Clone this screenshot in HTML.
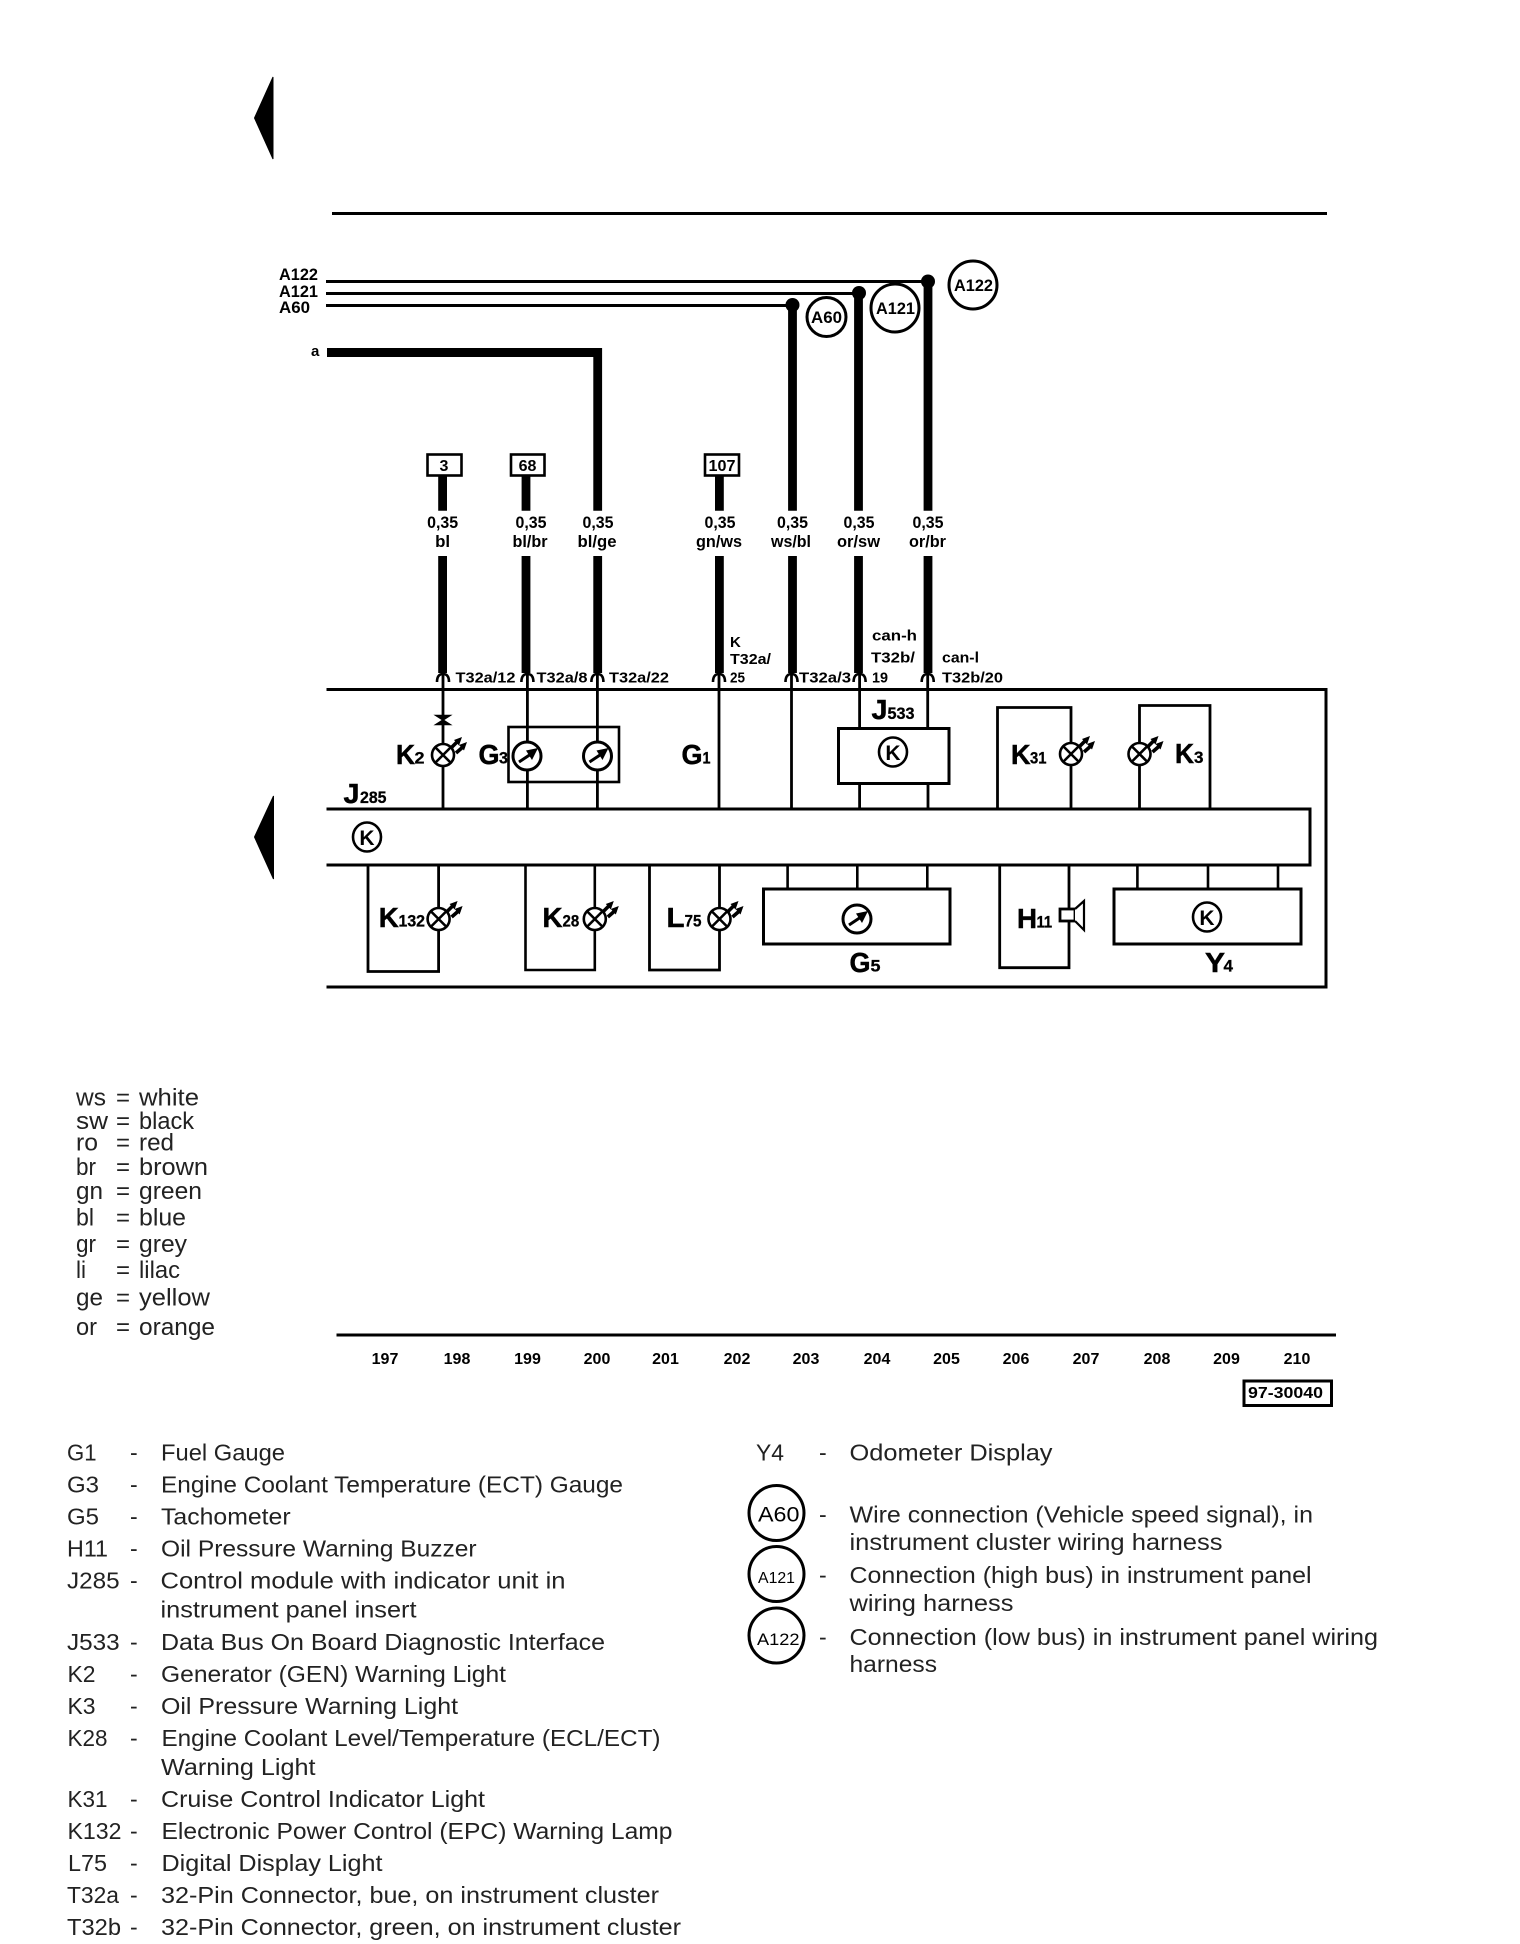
<!DOCTYPE html>
<html><head><meta charset="utf-8"><title>Wiring diagram</title>
<style>
html,body{margin:0;padding:0;background:#fff}
svg{display:block}
text{font-family:"Liberation Sans",sans-serif;fill:#000}
.b{font-weight:bold}
.big{font-weight:bold;font-size:28px;stroke:#000;stroke-width:.5}
.sub{font-weight:bold;font-size:17px;stroke:#000;stroke-width:.3}
.w{font-weight:bold;font-size:17px;text-anchor:middle}
.p{font-weight:bold;font-size:15px}
.n{font-weight:bold;font-size:16px;text-anchor:middle}
.l{font-size:23px;fill:#222}
.c{font-size:24px;fill:#222}
</style></head><body>
<svg xmlns="http://www.w3.org/2000/svg" width="1520" height="1944" viewBox="0 0 1520 1944">
<defs>
<g id="lamp">
<circle r="11" fill="#fff" stroke="#000" stroke-width="2.6"/>
<path d="M-7.5,-7.5L7.5,7.5M-7.5,7.5L7.5,-7.5" stroke="#000" stroke-width="2.6" fill="none"/>
<path d="M13,-2L21,-9M8,-7L15,-14" stroke="#000" stroke-width="3.6" fill="none"/>
<path d="M24,-13L16,-10L21,-4.5ZM19,-18L11,-15L16,-9.5Z" fill="#000"/>
</g>
<g id="gauge">
<circle r="14" fill="#fff" stroke="#000" stroke-width="3"/>
<path d="M-8,6L4,-2" stroke="#000" stroke-width="3" fill="none"/>
<path d="M11,-8L-1,-5.5L5,4Z" fill="#000"/>
</g>
<g id="pin"><path d="M-6,9Q-6,1 0,1Q6,1 6,9" fill="none" stroke="#000" stroke-width="2.6"/></g>
</defs>

<!-- page arrows and top rule -->
<path d="M273,77L254.5,118L273,159Z" fill="#000" stroke="#000"/>
<path d="M273.5,796L254.5,837L273.5,879Z" fill="#000" stroke="#000"/>
<path d="M332,213.5H1327" stroke="#000" stroke-width="3" fill="none"/>

<!-- bus lines -->
<path d="M326,281.5H928M326,293.5H859M326,305.5H792" stroke="#000" stroke-width="3" fill="none"/>
<ellipse cx="928" cy="281.5" rx="7" ry="7" fill="#000"/>
<ellipse cx="859" cy="293" rx="7" ry="7" fill="#000"/>
<ellipse cx="792.5" cy="305" rx="7" ry="7" fill="#000"/>
<text class="b" x="279" y="280" font-size="17" textLength="39" lengthAdjust="spacingAndGlyphs">A122</text>
<text class="b" x="279" y="297" font-size="17" textLength="39" lengthAdjust="spacingAndGlyphs">A121</text>
<text class="b" x="279" y="313" font-size="17" textLength="31" lengthAdjust="spacingAndGlyphs">A60</text>
<text class="b" x="311" y="356" font-size="15">a</text>

<!-- connection bubbles -->
<g fill="#fff" stroke="#000" stroke-width="3">
<circle cx="826.5" cy="317" r="19.5"/>
<circle cx="895" cy="308" r="24"/>
<circle cx="973" cy="285" r="24"/>
</g>
<text class="b" x="811" y="323" font-size="17" textLength="31" lengthAdjust="spacingAndGlyphs">A60</text>
<text class="b" x="876" y="314" font-size="17" textLength="39" lengthAdjust="spacingAndGlyphs">A121</text>
<text class="b" x="954" y="291" font-size="17" textLength="39" lengthAdjust="spacingAndGlyphs">A122</text>

<!-- thick wires -->
<path d="M327,352.5H602" stroke="#000" stroke-width="9" fill="none"/>
<path d="M442.6,476V510.7M442.6,556V673M526,476V510.7M526,556V673M597.7,348V510.7M597.7,556V673M719.4,476V510.7M719.4,556V673M792.5,305V510.7M792.5,556V673M858.5,293V510.7M858.5,556V673M928,281V510.7M928,556V673" stroke="#000" stroke-width="8.8" fill="none"/>

<!-- terminal boxes -->
<g fill="#fff" stroke="#000" stroke-width="2.6">
<rect x="427.5" y="454.5" width="34" height="21"/>
<rect x="511" y="454.5" width="33.5" height="21"/>
<rect x="705" y="454.5" width="34" height="21"/>
</g>
<text class="b" x="444" y="471" font-size="16" text-anchor="middle">3</text>
<text class="b" x="527.5" y="471" font-size="16" text-anchor="middle">68</text>
<text class="b" x="722" y="471" font-size="16" text-anchor="middle" textLength="27" lengthAdjust="spacingAndGlyphs">107</text>

<!-- wire labels -->
<text class="w" x="442.6" y="528" textLength="31" lengthAdjust="spacingAndGlyphs">0,35</text><text class="w" x="442.6" y="547" textLength="15" lengthAdjust="spacingAndGlyphs">bl</text>
<text class="w" x="531" y="528" textLength="31" lengthAdjust="spacingAndGlyphs">0,35</text><text class="w" x="530" y="547" textLength="35" lengthAdjust="spacingAndGlyphs">bl/br</text>
<text class="w" x="598" y="528" textLength="31" lengthAdjust="spacingAndGlyphs">0,35</text><text class="w" x="597" y="547" textLength="39" lengthAdjust="spacingAndGlyphs">bl/ge</text>
<text class="w" x="720" y="528" textLength="31" lengthAdjust="spacingAndGlyphs">0,35</text><text class="w" x="719" y="547" textLength="46" lengthAdjust="spacingAndGlyphs">gn/ws</text>
<text class="w" x="792.5" y="528" textLength="31" lengthAdjust="spacingAndGlyphs">0,35</text><text class="w" x="791" y="547" textLength="40" lengthAdjust="spacingAndGlyphs">ws/bl</text>
<text class="w" x="859" y="528" textLength="31" lengthAdjust="spacingAndGlyphs">0,35</text><text class="w" x="858.5" y="547" textLength="43" lengthAdjust="spacingAndGlyphs">or/sw</text>
<text class="w" x="928" y="528" textLength="31" lengthAdjust="spacingAndGlyphs">0,35</text><text class="w" x="927.5" y="547" textLength="37" lengthAdjust="spacingAndGlyphs">or/br</text>

<!-- pin labels -->
<text class="p" x="455.5" y="682.5" textLength="60" lengthAdjust="spacingAndGlyphs">T32a/12</text>
<text class="p" x="536.5" y="682.5" textLength="51" lengthAdjust="spacingAndGlyphs">T32a/8</text>
<text class="p" x="609" y="682.5" textLength="60" lengthAdjust="spacingAndGlyphs">T32a/22</text>
<text class="p" x="730" y="647">K</text>
<text class="p" x="730" y="664" textLength="41" lengthAdjust="spacingAndGlyphs">T32a/</text>
<text class="p" x="730" y="682.5" textLength="15" lengthAdjust="spacingAndGlyphs">25</text>
<text class="p" x="799" y="682.5" textLength="52" lengthAdjust="spacingAndGlyphs">T32a/3</text>
<text class="p" x="872" y="640.5" textLength="45" lengthAdjust="spacingAndGlyphs">can-h</text>
<text class="p" x="871" y="662.5" textLength="44" lengthAdjust="spacingAndGlyphs">T32b/</text>
<text class="p" x="872" y="682.5" textLength="16" lengthAdjust="spacingAndGlyphs">19</text>
<text class="p" x="942" y="662.5" textLength="37" lengthAdjust="spacingAndGlyphs">can-l</text>
<text class="p" x="942" y="682.5" textLength="61" lengthAdjust="spacingAndGlyphs">T32b/20</text>

<!-- main enclosure -->
<path d="M326.5,689.5H1326V987H326.5" fill="none" stroke="#000" stroke-width="3"/>
<path d="M326.5,809H1310V865H326.5" fill="none" stroke="#000" stroke-width="3"/>

<!-- thin wires top half -->
<path d="M443,674V809M527.4,674V809M597.4,674V809M719,674V809M791.5,674V809M859.6,674V728M927.7,674V728M859.6,784V809M928,784V809" stroke="#000" stroke-width="2.8" fill="none"/>
<use href="#pin" x="443" y="673"/><use href="#pin" x="527.4" y="673"/><use href="#pin" x="597.4" y="673"/><use href="#pin" x="719" y="673"/><use href="#pin" x="791.5" y="673"/><use href="#pin" x="859.6" y="673"/><use href="#pin" x="927.7" y="673"/>

<!-- diode -->
<path d="M436,715.5H450L436,724.5H450Z" fill="#000" stroke="#000" stroke-width="1.5"/>

<!-- upper components -->
<rect x="508.5" y="727" width="110.5" height="55" fill="none" stroke="#000" stroke-width="2.6"/>
<use href="#lamp" x="443" y="755"/>
<use href="#gauge" x="527" y="756"/>
<use href="#gauge" x="597.5" y="756"/>
<rect x="838.5" y="728.5" width="110.5" height="55" fill="#fff" stroke="#000" stroke-width="3"/>
<path d="M997.5,809V707.5H1071V809" fill="none" stroke="#000" stroke-width="2.8"/>
<path d="M1139.5,809V705.5H1210V809" fill="none" stroke="#000" stroke-width="2.8"/>
<use href="#lamp" x="1071" y="754"/>
<use href="#lamp" x="1139.5" y="754"/>

<!-- lower boxes -->
<path d="M368,865V971.5H438.6V865" fill="none" stroke="#000" stroke-width="2.8"/>
<path d="M525.5,865V970H594.8V865" fill="none" stroke="#000" stroke-width="2.6"/>
<path d="M649.5,865V970H719.5V865" fill="none" stroke="#000" stroke-width="2.8"/>
<path d="M999.7,865V967.7H1069V865" fill="none" stroke="#000" stroke-width="2.8"/>
<use href="#lamp" x="438.6" y="919"/>
<use href="#lamp" x="594.8" y="919"/>
<use href="#lamp" x="719.5" y="919"/>
<path d="M787.6,865V889M857.3,865V889M927.3,865V889M1137.4,865V889M1208,865V889M1278,865V889" stroke="#000" stroke-width="2.6" fill="none"/>
<rect x="763.5" y="889" width="186.5" height="55" fill="#fff" stroke="#000" stroke-width="3"/>
<rect x="1114" y="889" width="187" height="55" fill="#fff" stroke="#000" stroke-width="3"/>
<use href="#gauge" x="857" y="919"/>

<!-- buzzer -->
<rect x="1060" y="909" width="15" height="12" fill="#fff" stroke="#000" stroke-width="2.8"/>
<path d="M1075,909L1084,901V930L1075,921" fill="#fff" stroke="#000" stroke-width="2.2"/>

<!-- electronic symbols -->
<g fill="#fff" stroke="#000" stroke-width="2.6">
<ellipse cx="367" cy="837" rx="14" ry="14.5"/>
<ellipse cx="893" cy="752" rx="14" ry="14.5"/>
<ellipse cx="1207" cy="917" rx="14" ry="14.5"/>
</g>
<text class="b" x="367" y="845" font-size="21" text-anchor="middle">K</text>
<text class="b" x="893" y="760" font-size="21" text-anchor="middle">K</text>
<text class="b" x="1207" y="925" font-size="21" text-anchor="middle">K</text>

<!-- component labels -->
<text class="big" x="396" y="764" textLength="19" lengthAdjust="spacingAndGlyphs">K</text><text class="sub" x="414.5" y="763.5" textLength="10" lengthAdjust="spacingAndGlyphs">2</text>
<text class="big" x="478.5" y="764" textLength="21" lengthAdjust="spacingAndGlyphs">G</text><text class="sub" x="499" y="763.5" textLength="9" lengthAdjust="spacingAndGlyphs">3</text>
<text class="big" x="681.5" y="764" textLength="21" lengthAdjust="spacingAndGlyphs">G</text><text class="sub" x="702.5" y="763.5" textLength="8" lengthAdjust="spacingAndGlyphs">1</text>
<text class="big" x="343.5" y="803" textLength="16" lengthAdjust="spacingAndGlyphs">J</text><text class="sub" x="360" y="803" textLength="26.5" lengthAdjust="spacingAndGlyphs">285</text>
<text class="big" x="871.5" y="719" textLength="16" lengthAdjust="spacingAndGlyphs">J</text><text class="sub" x="887.5" y="719" textLength="27" lengthAdjust="spacingAndGlyphs">533</text>
<text class="big" x="1011" y="764" textLength="19.5" lengthAdjust="spacingAndGlyphs">K</text><text class="sub" x="1030" y="763.5" textLength="16.5" lengthAdjust="spacingAndGlyphs">31</text>
<text class="big" x="1175" y="763" textLength="19" lengthAdjust="spacingAndGlyphs">K</text><text class="sub" x="1194" y="763" textLength="9.5" lengthAdjust="spacingAndGlyphs">3</text>
<text class="big" x="378.7" y="927" textLength="20" lengthAdjust="spacingAndGlyphs">K</text><text class="sub" x="398.5" y="926.5" textLength="26.5" lengthAdjust="spacingAndGlyphs">132</text>
<text class="big" x="542.5" y="927" textLength="20" lengthAdjust="spacingAndGlyphs">K</text><text class="sub" x="562.5" y="926.5" textLength="16.7" lengthAdjust="spacingAndGlyphs">28</text>
<text class="big" x="666.5" y="927" textLength="18" lengthAdjust="spacingAndGlyphs">L</text><text class="sub" x="684.5" y="926.5" textLength="17" lengthAdjust="spacingAndGlyphs">75</text>
<text class="big" x="1017" y="928" textLength="20" lengthAdjust="spacingAndGlyphs">H</text><text class="sub" x="1036.5" y="927.5" textLength="15.7" lengthAdjust="spacingAndGlyphs">11</text>
<text class="big" x="849.5" y="972" textLength="21" lengthAdjust="spacingAndGlyphs">G</text><text class="sub" x="870.5" y="971.5" textLength="10" lengthAdjust="spacingAndGlyphs">5</text>
<text class="big" x="1205" y="972" textLength="20" lengthAdjust="spacingAndGlyphs">Y</text><text class="sub" x="1223.5" y="971.5" textLength="9.5" lengthAdjust="spacingAndGlyphs">4</text>

<!-- colour legend -->
<g class="c">
<text class="c" x="76" y="1105.5" textLength="30" lengthAdjust="spacingAndGlyphs">ws</text><text class="c" x="116" y="1105.5">=</text><text class="c" x="139" y="1105.5" textLength="60" lengthAdjust="spacingAndGlyphs">white</text>
<text class="c" x="76" y="1129" textLength="32" lengthAdjust="spacingAndGlyphs">sw</text><text class="c" x="116" y="1129">=</text><text class="c" x="139" y="1129" textLength="55" lengthAdjust="spacingAndGlyphs">black</text>
<text class="c" x="76" y="1150.5" textLength="22" lengthAdjust="spacingAndGlyphs">ro</text><text class="c" x="116" y="1150.5">=</text><text class="c" x="139" y="1150.5" textLength="35" lengthAdjust="spacingAndGlyphs">red</text>
<text class="c" x="76" y="1175" textLength="20" lengthAdjust="spacingAndGlyphs">br</text><text class="c" x="116" y="1175">=</text><text class="c" x="139" y="1175" textLength="69" lengthAdjust="spacingAndGlyphs">brown</text>
<text class="c" x="76" y="1199" textLength="27" lengthAdjust="spacingAndGlyphs">gn</text><text class="c" x="116" y="1199">=</text><text class="c" x="139" y="1199" textLength="63" lengthAdjust="spacingAndGlyphs">green</text>
<text class="c" x="76" y="1225.5" textLength="18" lengthAdjust="spacingAndGlyphs">bl</text><text class="c" x="116" y="1225.5">=</text><text class="c" x="139" y="1225.5" textLength="47" lengthAdjust="spacingAndGlyphs">blue</text>
<text class="c" x="76" y="1252" textLength="20" lengthAdjust="spacingAndGlyphs">gr</text><text class="c" x="116" y="1252">=</text><text class="c" x="139" y="1252" textLength="48" lengthAdjust="spacingAndGlyphs">grey</text>
<text class="c" x="76" y="1278" textLength="10" lengthAdjust="spacingAndGlyphs">li</text><text class="c" x="116" y="1278">=</text><text class="c" x="139" y="1278" textLength="41" lengthAdjust="spacingAndGlyphs">lilac</text>
<text class="c" x="76" y="1305.5" textLength="27" lengthAdjust="spacingAndGlyphs">ge</text><text class="c" x="116" y="1305.5">=</text><text class="c" x="139" y="1305.5" textLength="71" lengthAdjust="spacingAndGlyphs">yellow</text>
<text class="c" x="76" y="1335" textLength="21" lengthAdjust="spacingAndGlyphs">or</text><text class="c" x="116" y="1335">=</text><text class="c" x="139" y="1335" textLength="76" lengthAdjust="spacingAndGlyphs">orange</text>
</g>

<!-- ruler -->
<path d="M336.5,1335H1336" stroke="#000" stroke-width="3" fill="none"/>
<text class="n" x="385" y="1364">197</text><text class="n" x="457" y="1364">198</text><text class="n" x="527.5" y="1364">199</text><text class="n" x="597" y="1364">200</text><text class="n" x="665.5" y="1364">201</text><text class="n" x="737" y="1364">202</text><text class="n" x="806" y="1364">203</text><text class="n" x="877" y="1364">204</text><text class="n" x="946.5" y="1364">205</text><text class="n" x="1016" y="1364">206</text><text class="n" x="1086" y="1364">207</text><text class="n" x="1157" y="1364">208</text><text class="n" x="1226.5" y="1364">209</text><text class="n" x="1297" y="1364">210</text>
<rect x="1244" y="1381" width="87.5" height="24.5" fill="none" stroke="#000" stroke-width="3"/>
<text class="b" x="1248" y="1398" font-size="16" textLength="75" lengthAdjust="spacingAndGlyphs">97-30040</text>

<!-- left component list -->
<text class="l" x="67" y="1460.5" textLength="29.5" lengthAdjust="spacingAndGlyphs">G1</text><text class="l" x="130" y="1460.5">-</text><text class="l" x="161" y="1460.5" textLength="124" lengthAdjust="spacingAndGlyphs">Fuel Gauge</text>
<text class="l" x="67" y="1492.5" textLength="32" lengthAdjust="spacingAndGlyphs">G3</text><text class="l" x="130" y="1492.5">-</text><text class="l" x="161" y="1492.5" textLength="462" lengthAdjust="spacingAndGlyphs">Engine Coolant Temperature (ECT) Gauge</text>
<text class="l" x="67" y="1524.5" textLength="32" lengthAdjust="spacingAndGlyphs">G5</text><text class="l" x="130" y="1524.5">-</text><text class="l" x="161" y="1524.5" textLength="129.6" lengthAdjust="spacingAndGlyphs">Tachometer</text>
<text class="l" x="67" y="1556.5" textLength="41" lengthAdjust="spacingAndGlyphs">H11</text><text class="l" x="130" y="1556.5">-</text><text class="l" x="161" y="1556.5" textLength="315.6" lengthAdjust="spacingAndGlyphs">Oil Pressure Warning Buzzer</text>
<text class="l" x="67" y="1588.5" textLength="52.6" lengthAdjust="spacingAndGlyphs">J285</text><text class="l" x="130" y="1588.5">-</text><text class="l" x="160.5" y="1588.5" textLength="405" lengthAdjust="spacingAndGlyphs">Control module with indicator unit in</text>
<text class="l" x="160.5" y="1617.5" textLength="256" lengthAdjust="spacingAndGlyphs">instrument panel insert</text>
<text class="l" x="67" y="1650" textLength="52.6" lengthAdjust="spacingAndGlyphs">J533</text><text class="l" x="130" y="1650">-</text><text class="l" x="161" y="1650" textLength="444" lengthAdjust="spacingAndGlyphs">Data Bus On Board Diagnostic Interface</text>
<text class="l" x="67.5" y="1682" textLength="28" lengthAdjust="spacingAndGlyphs">K2</text><text class="l" x="130" y="1682">-</text><text class="l" x="161" y="1682" textLength="345" lengthAdjust="spacingAndGlyphs">Generator (GEN) Warning Light</text>
<text class="l" x="67.5" y="1714" textLength="28" lengthAdjust="spacingAndGlyphs">K3</text><text class="l" x="130" y="1714">-</text><text class="l" x="161" y="1714" textLength="297" lengthAdjust="spacingAndGlyphs">Oil Pressure Warning Light</text>
<text class="l" x="67.5" y="1746" textLength="40" lengthAdjust="spacingAndGlyphs">K28</text><text class="l" x="130" y="1746">-</text><text class="l" x="161.5" y="1746" textLength="499" lengthAdjust="spacingAndGlyphs">Engine Coolant Level/Temperature (ECL/ECT)</text>
<text class="l" x="161" y="1775" textLength="154.5" lengthAdjust="spacingAndGlyphs">Warning Light</text>
<text class="l" x="67.5" y="1807" textLength="40" lengthAdjust="spacingAndGlyphs">K31</text><text class="l" x="130" y="1807">-</text><text class="l" x="161" y="1807" textLength="324" lengthAdjust="spacingAndGlyphs">Cruise Control Indicator Light</text>
<text class="l" x="67.5" y="1839" textLength="54" lengthAdjust="spacingAndGlyphs">K132</text><text class="l" x="130" y="1839">-</text><text class="l" x="161.5" y="1839" textLength="511" lengthAdjust="spacingAndGlyphs">Electronic Power Control (EPC) Warning Lamp</text>
<text class="l" x="68" y="1871" textLength="39" lengthAdjust="spacingAndGlyphs">L75</text><text class="l" x="130" y="1871">-</text><text class="l" x="161.5" y="1871" textLength="221" lengthAdjust="spacingAndGlyphs">Digital Display Light</text>
<text class="l" x="67" y="1903" textLength="52" lengthAdjust="spacingAndGlyphs">T32a</text><text class="l" x="130" y="1903">-</text><text class="l" x="161" y="1903" textLength="498" lengthAdjust="spacingAndGlyphs">32-Pin Connector, bue, on instrument cluster</text>
<text class="l" x="67" y="1935" textLength="54" lengthAdjust="spacingAndGlyphs">T32b</text><text class="l" x="130" y="1935">-</text><text class="l" x="161" y="1935" textLength="520" lengthAdjust="spacingAndGlyphs">32-Pin Connector, green, on instrument cluster</text>

<!-- right component list -->
<text class="l" x="756" y="1460.5" textLength="28" lengthAdjust="spacingAndGlyphs">Y4</text><text class="l" x="819" y="1460.5">-</text><text class="l" x="849.5" y="1460.5" textLength="203" lengthAdjust="spacingAndGlyphs">Odometer Display</text>
<g fill="#fff" stroke="#000" stroke-width="3">
<circle cx="776.5" cy="1513" r="27.5"/>
<circle cx="776.5" cy="1574" r="27.5"/>
<circle cx="776.5" cy="1635.5" r="27.5"/>
</g>
<text x="758" y="1521.5" font-size="21" fill="#111" textLength="41.5" lengthAdjust="spacingAndGlyphs">A60</text>
<text x="758" y="1583" font-size="16" fill="#111" textLength="37" lengthAdjust="spacingAndGlyphs">A121</text>
<text x="757" y="1645" font-size="17" fill="#111" textLength="42.5" lengthAdjust="spacingAndGlyphs">A122</text>
<text class="l" x="819" y="1522.5">-</text><text class="l" x="849.5" y="1522.5" textLength="463.5" lengthAdjust="spacingAndGlyphs">Wire connection (Vehicle speed signal), in</text>
<text class="l" x="849.5" y="1550" textLength="373" lengthAdjust="spacingAndGlyphs">instrument cluster wiring harness</text>
<text class="l" x="819" y="1583">-</text><text class="l" x="849.5" y="1583" textLength="462" lengthAdjust="spacingAndGlyphs">Connection (high bus) in instrument panel</text>
<text class="l" x="849.5" y="1611" textLength="164" lengthAdjust="spacingAndGlyphs">wiring harness</text>
<text class="l" x="819" y="1645">-</text><text class="l" x="849.5" y="1645" textLength="528.5" lengthAdjust="spacingAndGlyphs">Connection (low bus) in instrument panel wiring</text>
<text class="l" x="849.5" y="1672" textLength="87.5" lengthAdjust="spacingAndGlyphs">harness</text>
</svg>
</body></html>
